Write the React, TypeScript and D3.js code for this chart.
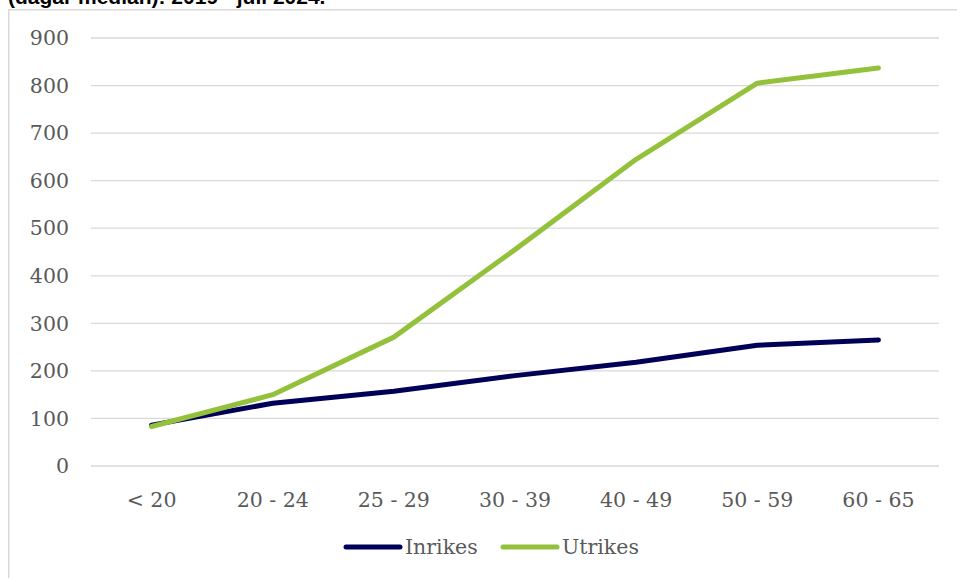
import React from "react";
import * as d3 from "d3";

// age groups and median days
const categories = ["< 20", "20 - 24", "25 - 29", "30 - 39", "40 - 49", "50 - 59", "60 - 65"];
const inrikes = [86, 132, 157, 190, 218, 254, 265];
const utrikes = [83, 150, 271, 455, 645, 805, 837];
const yTicks = [0, 100, 200, 300, 400, 500, 600, 700, 800, 900];

const seriesList = [
  { name: "Inrikes", values: inrikes, color: "#000058" },
  { name: "Utrikes", values: utrikes, color: "#93C13B" },
];

const W = 957, H = 578;
const font = "'DejaVu Serif', serif";

export default function App() {
  const x = d3.scalePoint<string>().domain(categories).range([91, 939]).padding(0.5);
  const y = d3.scaleLinear().domain([0, 900]).range([466, 38]);

  const line = d3.line<number>()
    .x((d, i) => x(categories[i]) as number)
    .y(d => y(d));

  return (
    <svg width={W} height={H} style={{ position: "absolute", left: 0, top: 0, background: "#fff" }}>
      {/* title, cut off at the top like in the source */}
      <text x={8} y={4} fontFamily="Arial, 'Liberation Sans', sans-serif" fontWeight="bold" fontSize={21} fill="#000">
        (dagar median): 2019 - juli 2024.
      </text>
      {/* chart frame */}
      <rect x={8.75} y={9.75} width={W + 10} height={H + 10} fill="none" stroke="#d9d9d9" strokeWidth={1.5} />

      {/* grid + y labels */}
      {yTicks.map(t => (
        <g key={t}>
          <line x1={91} x2={939} y1={y(t)} y2={y(t)} stroke="#d9d9d9" strokeWidth={1.3} />
          <text x={69} y={y(t)} dy="0.35em" textAnchor="end" fontFamily={font} fontSize={20.5} fill="#595959">
            {t}
          </text>
        </g>
      ))}

      {/* x labels */}
      {categories.map(c => (
        <text key={c} x={x(c)} y={507} textAnchor="middle" fontFamily={font} fontSize={20.5} fill="#595959">
          {c}
        </text>
      ))}

      {/* series */}
      {seriesList.map(s => (
        <path key={s.name} d={line(s.values) || ""} fill="none" stroke={s.color}
          strokeWidth={5} strokeLinejoin="round" strokeLinecap="round" />
      ))}

      {/* legend */}
      {seriesList.map((s, i) => {
        const lx = 346 + i * 157;
        return (
          <g key={s.name}>
            <line x1={lx} x2={lx + 54} y1={547} y2={547} stroke={s.color} strokeWidth={5} strokeLinecap="round" />
            <text x={lx + 59} y={547} dy="0.35em" fontFamily={font} fontSize={20.5} fill="#595959">
              {s.name}
            </text>
          </g>
        );
      })}
    </svg>
  );
}
